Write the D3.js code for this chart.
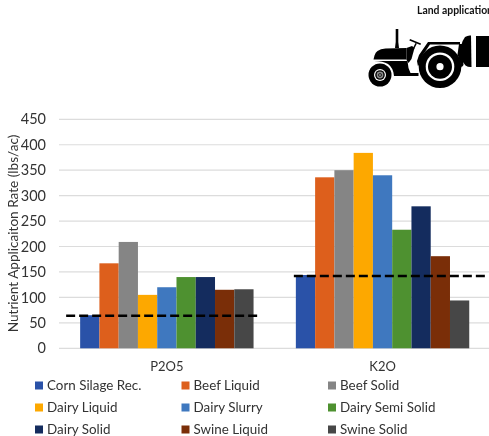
<!DOCTYPE html>
<html><head><meta charset="utf-8">
<script src="https://cdn.jsdelivr.net/npm/d3@7"></script>
<style>html,body{margin:0;background:#fff}svg{display:block;filter:blur(.35px)}text{font-family:Lato,"Open Sans",sans-serif;fill:#333}</style>
</head><body><svg id="c" width="489" height="436"></svg>
<script>
const categories=["P2O5","K2O"];
const seriesNames=["Corn Silage Rec.","Beef Liquid","Beef Solid","Dairy Liquid","Dairy Slurry","Dairy Semi Solid","Dairy Solid","Swine Liquid","Swine Solid"];
const p2o5Values=[65,167,209,105,120,140,140,115,116];
const k2oValues=[144,336,350,384,340,233,279,181,94];
const referenceValues=[64,142];
const seriesColors=["#2a52a8","#dd5f1c","#858585","#fda800","#3f78bf","#4e9130","#142c5e","#7a2e08","#474747"];
const yTicks=[0,50,100,150,200,250,300,350,400,450];
const title="Land application";
const yTitle="Nutrient Applicaiton Rate (lbs/ac)";

const svg=d3.select("#c");
const W=490.4,L=59,T=119.3,B=348.3;
const y=d3.scaleLinear().domain([0,450]).range([B,T]);
const x0=d3.scaleBand().domain(categories).range([L,W]);
const innerPad=(x0.bandwidth()-173.4)/2;
const x1=d3.scaleBand().domain(seriesNames).range([innerPad,x0.bandwidth()-innerPad]);
const values=[p2o5Values,k2oValues];

svg.append("g").selectAll("line").data(yTicks).join("line")
  .attr("x1",L).attr("x2",489).attr("y1",d=>y(d)).attr("y2",d=>y(d))
  .attr("stroke","#dcdcdc").attr("stroke-width",1.2);

categories.forEach((c,ci)=>{
  svg.append("g").attr("transform",`translate(${x0(c)},0)`)
    .selectAll("rect").data(seriesNames).join("rect")
    .attr("x",d=>x1(d)).attr("width",x1.bandwidth())
    .attr("y",(d,i)=>y(values[ci][i])).attr("height",(d,i)=>B-y(values[ci][i]))
    .attr("fill",(d,i)=>seriesColors[i]);
});

const yAxis=svg.append("g").attr("transform",`translate(${L},0)`)
  .call(d3.axisLeft(y).tickValues(yTicks).tickSize(0).tickPadding(13));
yAxis.select(".domain").remove();
yAxis.selectAll("text").style("font-size","14.5px");

const xAxis=svg.append("g").attr("transform",`translate(0,${B})`)
  .call(d3.axisBottom(x0).tickSize(0).tickPadding(13));
xAxis.select(".domain").remove();
xAxis.selectAll("text").style("font-size","13px");

// dashed reference lines
const extents=[[-14,5],[-2,18]];
svg.append("g").selectAll("line").data(categories).join("line")
  .attr("x1",(c,i)=>x0(c)+innerPad+extents[i][0])
  .attr("x2",(c,i)=>x0(c)+x0.bandwidth()-innerPad+extents[i][1])
  .attr("y1",(c,i)=>y(referenceValues[i])).attr("y2",(c,i)=>y(referenceValues[i]))
  .attr("stroke","#000").attr("stroke-width",2.6).attr("stroke-dasharray","9 4");

svg.append("text").attr("transform",`translate(18,233.5) rotate(-90)`)
  .attr("text-anchor","middle").style("font-size","13.6px").text(yTitle);

// legend
const lx=d3.scalePoint().domain([0,1,2]).range([35,328]);
const ly=d3.scalePoint().domain([0,1,2]).range([385.5,429.5]);
const lg=svg.append("g").selectAll("g").data(seriesNames).join("g")
  .attr("transform",(d,i)=>`translate(${lx(i%3)},${ly(Math.floor(i/3))})`);
lg.append("rect").attr("y",-4).attr("width",8).attr("height",8).attr("fill",(d,i)=>seriesColors[i]);
lg.append("text").attr("x",12).attr("dy","0.33em").style("font-size","13.4px").text(d=>d);

// header + tractor
svg.append("text").attr("x",417).attr("y",14).style("font-size","10.4px").style("font-weight","700").style("fill","#111").text(title);
const t=svg.append("g").attr("fill","#000");
// exhaust
t.append("path").attr("d","M395.7 29h2.6v13l.7 6h-4l.7-6z");
// hood
t.append("path").attr("d","M373.5 59.5l1-4q1-3.5 3-4.5 3-2 8-2.4l21-.6v11.5z");
// lower body
t.append("path").attr("d","M374 61h33.5l1 7 2 5h8v3h-24.5q-.5-8-6-12-5-3-14-3z");
// dash + steering
t.append("path").attr("d","M406.5 48l5.5-2 2.5 2-3 11-3 4-2-3z");
t.append("path").attr("d","M410 39l11 4.6-.6 1.4-11-4.6z");
t.append("path").attr("d","M415.5 43l1.4.6-3 6-1.4-.6z");
// fender
t.append("path").attr("d","M417 61l2-6 9-13h32v2.5h-30l-7.5 11-3 8-1.5 3z");
t.append("path").attr("d","M459 44h3l1.5 21-2 2.5q-2-8-4-13z");
// wheels
const wheel=(cx,cy,rings)=>rings.forEach(([r,f])=>t.append("circle").attr("cx",cx).attr("cy",cy).attr("r",r).attr("fill",f));
wheel(380,75,[[11.5,"#000"],[6,"#fff"],[4.8,"#000"],[3.4,"#8a8a8a"],[1.8,"#000"],[.8,"#fff"]]);
wheel(440,66.7,[[21.3,"#000"],[14.3,"#fff"],[12,"#000"],[3.6,"#fff"]]);
// tank
t.append("path").attr("d","M465 37q3-2 6-1.5l.5 31.5q-3 .5-6-1.5-3-3-4-7v-14q1-4 3.500-7.500z");
t.append("path").attr("d","M476 36h13v31h-13z");
</script></body></html>
